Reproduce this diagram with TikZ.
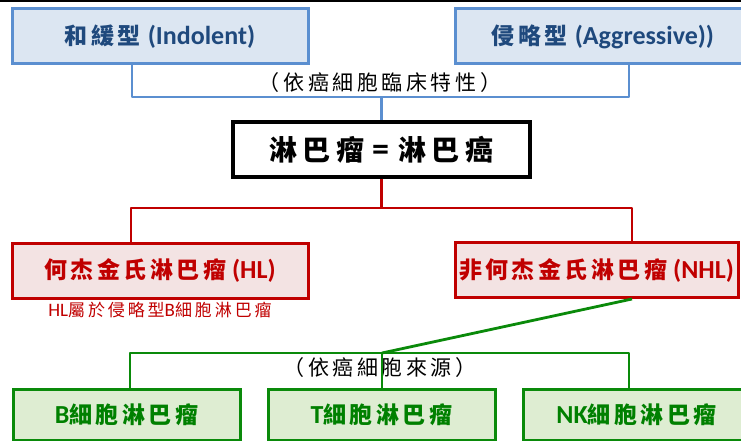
\documentclass[tikz,border=0pt]{standalone}
\usepackage{fontspec}
\setmainfont{Carlito}
\newfontfamily\cjk[LetterSpace=15]{Noto Sans CJK TC}
\newfontfamily\cjkc[LetterSpace=18]{Noto Sans CJK TC}
\newfontfamily\cjklab[LetterSpace=17]{Noto Sans CJK TC}
\definecolor{bluefill}{HTML}{DCE6F2}
\definecolor{bluebd}{HTML}{5B8FD0}
\definecolor{bluetx}{HTML}{1F497D}
\definecolor{redbd}{HTML}{C00000}
\definecolor{redfill}{HTML}{F3E3E3}
\definecolor{greenbd}{HTML}{0A8A0A}
\definecolor{greenfill}{HTML}{DEEDD2}
\definecolor{greentx}{HTML}{008000}
\tikzset{
  box/.style={draw, line width=3pt, minimum height=55pt, inner sep=0pt, font=\bfseries\fontsize{23}{27}\selectfont},
  bluebox/.style={box, draw=bluebd, fill=bluefill, text=bluetx},
  redbox/.style={box, draw=redbd, fill=redfill, text=redbd},
  greenbox/.style={box, draw=greenbd, fill=greenfill, text=greentx, minimum height=51pt, minimum width=227pt},
  mainbox/.style={box, draw=black, fill=white, line width=3.4pt, font=\bfseries\fontsize{28}{32}\selectfont},
  conn/.style={line width=2.8pt, line join=round},
  lab/.style={inner sep=0pt, font=\fontsize{21}{24}\selectfont}
}
\newcommand\lat[1]{{\fontsize{26}{30}\selectfont #1}}
\begin{document}
\begin{tikzpicture}[x=1pt,y=-1pt]
\useasboundingbox (0,0) rectangle (741,441);
\clip (0,0) rectangle (741,441);
\draw[line width=1.5pt] (0,1) -- (741,1);
% boxes
\node[bluebox, minimum width=296pt] (ind) at (160,36.5) {{\cjk 和緩型}\hspace{7pt}\lat{(Indolent)}};
\node[bluebox, minimum width=296pt] (agg) at (603,36.5) {{\cjk 侵略型}\hspace{7pt}\lat{(Aggressive))}};
\node[mainbox, minimum width=297pt] (ctr) at (381.5,149.5) {{\cjkc 淋巴瘤}\hspace{8pt}{\fontsize{34}{34}\selectfont =}\hspace{10pt}{\cjkc 淋巴癌}};
\node[redbox, minimum width=296pt] (hl) at (160,270.5) {{\cjk 何杰金氏淋巴瘤}\hspace{6pt}\lat{(HL)}};
\node[redbox, minimum width=283pt] (nhl) at (596.5,270) {{\cjk 非何杰金氏淋巴瘤}\hspace{6pt}\lat{(NHL)}};
\node[text=redbd, inner sep=0pt, font=\fontsize{19}{22}\selectfont] (hlnote) at (160,310) {HL{\cjklab\fontsize{17}{20}\selectfont 屬於侵略型}B{\cjklab\fontsize{17}{20}\selectfont 細胞淋巴瘤}};
\node[greenbox] (bc) at (126.5,414.5) {\lat{B}{\cjk 細胞淋巴瘤}};
\node[greenbox] (tc) at (381.5,414.5) {\lat{T}{\cjk 細胞淋巴瘤}};
\node[greenbox] (nk) at (636.5,414.5) {\lat{NK}{\cjk 細胞淋巴瘤}};
% labels
\node[lab] (l1) at (380,83) {\cjklab （依癌細胞臨床特性）};
\node[lab] (l2) at (380,368) {\cjklab （依癌細胞來源）};
% blue connectors
\coordinate (b1) at (132,97);
\coordinate (b2) at (629,97);
\coordinate (bm) at (381.5,97);
\draw[conn, bluebd] (ind.south -| b1) -- (b1) -- (b2) -- (agg.south -| b2);
\draw[conn, bluebd] (bm) -- (ctr.north);
% red connectors
\coordinate (r1) at (131,208);
\coordinate (r2) at (632,208);
\draw[conn, redbd] (ctr.south) -- (ctr.south |- r1);
\draw[conn, redbd] (hl.north -| r1) -- (r1) -- (r2) -- (nhl.north -| r2);
% green connectors
\coordinate (g1) at (130,353);
\coordinate (g2) at (629,353);
\coordinate (gm) at (382,353);
\draw[conn, greenbd] (nhl.south -| r2) -- (gm);
\draw[conn, greenbd] (bc.north -| g1) -- (g1) -- (g2) -- (nk.north -| g2);
\draw[conn, greenbd] (gm) -- (tc.north -| gm);
\end{tikzpicture}
\end{document}
